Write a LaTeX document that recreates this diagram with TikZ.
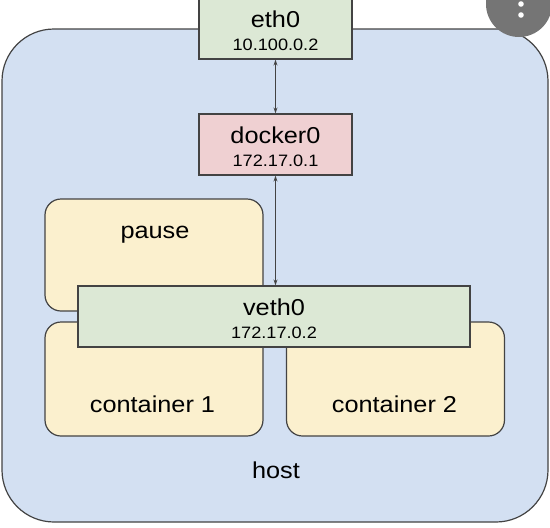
\documentclass[tikz,border=0pt]{standalone}
\usepackage{fontspec}
\setmainfont{Liberation Sans}[FakeStretch=1.1]
\usetikzlibrary{arrows.meta}
\definecolor{hostblue}{HTML}{D3E0F2}
\definecolor{boxgreen}{HTML}{DCE8D5}
\definecolor{boxred}{HTML}{EFD0D2}
\definecolor{boxyellow}{HTML}{FBF0CE}
\definecolor{edge}{HTML}{434343}
\definecolor{dotgray}{HTML}{757575}
\tikzset{
  box/.style={draw=edge, line width=1.2pt, inner sep=0pt, minimum height=61pt},
  greenbox/.style={box, fill=boxgreen},
  redbox/.style={box, fill=boxred},
  contbox/.style={draw=edge, line width=1.2pt, fill=boxyellow, rounded corners=16pt, inner sep=0pt},
  big/.style={font=\fontsize{23}{25}\selectfont},
  ifname/.style={big, anchor=base, inner sep=0pt, yshift=-30pt},
  ipaddr/.style={font=\fontsize{16.5}{20}\selectfont, anchor=base, inner sep=0pt, yshift=-53pt},
  link/.style={draw=edge, line width=1pt, {Stealth[length=6pt,width=4pt]}-{Stealth[length=6pt,width=4pt]}}
}
\begin{document}
\begin{tikzpicture}[x=1pt,y=-1pt]
\useasboundingbox (0,0) rectangle (550,528);
\begin{scope}
\clip (0,0) rectangle (550,528);
% host
\draw[draw=edge, line width=1.2pt, fill=hostblue, rounded corners=52pt] (2,29) rectangle (548,522);
\node[big] (hostL) at (276,470) {host};
% containers
\node[contbox, minimum width=218pt, minimum height=112pt] (pause) at (154,255) {};
\node[big] (pauseL) at (155,235) {pause};
\node[contbox, minimum width=218pt, minimum height=114pt] (c1) at (154,379) {};
\node[big] (c1L) at (152.5,404) {container 1};
\node[contbox, minimum width=218pt, minimum height=114pt] (c2) at (395.5,379) {};
\node[big] (c2L) at (394.5,404) {container 2};
% interfaces
\node[greenbox, minimum width=392pt] (veth0) at (274,316.5) {};
\node[ifname] (veth0L) at (veth0.north) {veth0};
\node[ipaddr] (veth0IP) at (veth0.north) {172.17.0.2};
\node[greenbox, minimum width=153pt] (eth0) at (275.5,28.5) {};
\node[ifname] (eth0L) at (eth0.north) {eth0};
\node[ipaddr] (eth0IP) at (eth0.north) {10.100.0.2};
\node[redbox, minimum width=153pt] (docker0) at (275.5,144.5) {};
\node[ifname] (docker0L) at (docker0.north) {docker0};
\node[ipaddr] (docker0IP) at (docker0.north) {172.17.0.1};
% links
\draw[link] (eth0.south) -- (docker0.north);
\draw[link] (docker0.south) -- (docker0.south |- veth0.north);
% menu icon
\fill[dotgray] (519,4) circle (33pt);
\fill[white] (521,-7) circle (2.8pt);
\fill[white] (521,4) circle (2.8pt);
\fill[white] (521,15) circle (2.8pt);
\end{scope}
\end{tikzpicture}
\end{document}
